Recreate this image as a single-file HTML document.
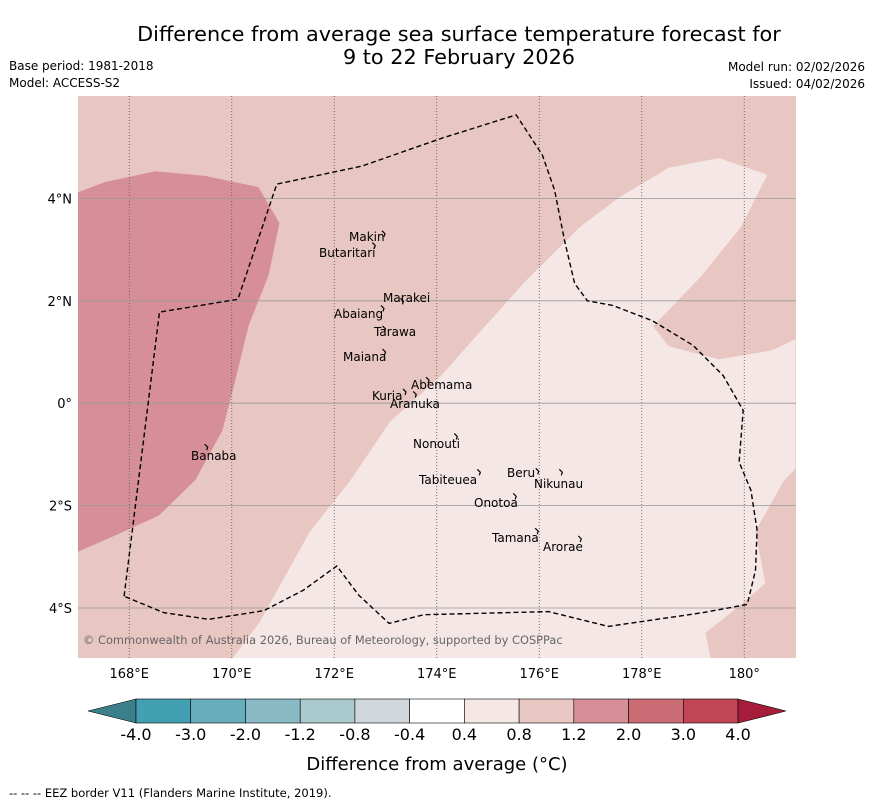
<!DOCTYPE html>
<html><head><meta charset="utf-8"><style>
body{margin:0;background:#fff;width:873px;height:804px;overflow:hidden;font-family:"DejaVu Sans","Liberation Sans",sans-serif}
</style></head><body>
<svg width="873" height="804" xmlns="http://www.w3.org/2000/svg" font-family="DejaVu Sans, Liberation Sans, sans-serif">
<text x="459" y="41" font-size="20.8" text-anchor="middle">Difference from average sea surface temperature forecast for</text>
<text x="459" y="64" font-size="20.8" text-anchor="middle">9 to 22 February 2026</text>
<text x="9" y="70" font-size="12">Base period: 1981-2018</text>
<text x="9" y="87" font-size="12">Model: ACCESS-S2</text>
<text x="865" y="71" font-size="12" text-anchor="end">Model run: 02/02/2026</text>
<text x="865" y="88" font-size="12" text-anchor="end">Issued: 04/02/2026</text>
<defs><clipPath id="mc"><rect x="78" y="96" width="718" height="562"/></clipPath></defs>
<g id="map" clip-path="url(#mc)">
<rect x="78" y="96" width="718" height="562" fill="#e8c6c1"/>
</g>
<g id="cbar"></g>
<text x="437" y="770" font-size="18" text-anchor="middle">Difference from average (°C)</text>
<text x="9" y="797" font-size="11.5">--  --  -- EEZ border V11 (Flanders Marine Institute, 2019).</text>
</svg>
<script>
const NS='http://www.w3.org/2000/svg';
const lonTicks=[168,170,172,174,176,178,180];
const lonLabels=['168°E','170°E','172°E','174°E','176°E','178°E','180°'];
const latTicks=[4,2,0,-2,-4];
const latLabels=['4°N','2°N','0°','2°S','4°S'];
const darkRegion=[[167,4.12],[167.53,4.32],[168.51,4.53],[169.48,4.44],[170.52,4.22],[170.93,3.52],[170.72,2.5],[170.33,1.52],[170.07,0.45],[169.82,-0.53],[169.29,-1.5],[168.57,-2.2],[167.53,-2.67],[167,-2.9]];
const lightRegion=[[170,-5],[170.55,-4.27],[171.52,-2.51],[172.3,-1.53],[173.09,-0.36],[174.07,0.52],[174.85,1.4],[175.73,2.38],[176.8,3.45],[177.59,4.04],[178.53,4.6],[179.51,4.79],[180.45,4.46],[179.94,3.45],[179.16,2.48],[178.22,1.5],[178.53,1.11],[179.51,0.86],[180.53,1.03],[181,1.25],[181,-1.28],[180.77,-1.52],[180.22,-2.5],[180.41,-3.52],[179.94,-3.93],[179.24,-4.49],[179.35,-5]];
const eez=[[167.9,-3.77],[168.59,1.78],[170.12,2.03],[170.88,4.28],[172.54,4.63],[174.11,5.18],[175.55,5.63],[176.06,4.85],[176.3,4.16],[176.49,3.19],[176.69,2.34],[176.94,2.0],[177.43,1.91],[178.21,1.61],[179.0,1.13],[179.59,0.54],[179.98,-0.14],[179.9,-1.15],[180.13,-1.7],[180.25,-2.48],[180.22,-3.26],[180.06,-3.93],[179.2,-4.09],[177.35,-4.36],[176.18,-4.07],[173.75,-4.13],[173.07,-4.3],[172.48,-3.75],[172.05,-3.18],[171.4,-3.65],[170.63,-4.05],[169.55,-4.22],[168.67,-4.09],[167.9,-3.77]];
const islands=[["Makin",172.99,3.31,349,241],["Butaritari",172.8,3.08,319,257],["Marakei",173.35,1.99,383,302],["Abaiang",172.97,1.85,334,318],["Tarawa",173.0,1.45,374,336],["Maiana",173.0,1.0,343,361],["Abemama",173.85,0.45,411,389],["Kuria",173.4,0.22,372,400],["Aranuka",173.6,0.17,390,408],["Nonouti",174.4,-0.65,413,448],["Banaba",169.53,-0.86,191,460],["Beru",175.99,-1.33,507,477],["Nikunau",176.45,-1.35,534,488],["Tabiteuea",174.85,-1.35,419,484],["Onotoa",175.55,-1.82,474,507],["Tamana",175.98,-2.5,492,542],["Arorae",176.82,-2.65,543,551]];
const cbColors=['#43a0b2','#67adbb','#89b9c4','#a9c9cc','#d0d6d9','#ffffff','#f5e7e5','#e8c6c1','#d68f97','#cb6b74','#c04555'];
const cbLabels=['-4.0','-3.0','-2.0','-1.2','-0.8','-0.4','0.4','0.8','1.2','2.0','3.0','4.0'];
const X=lon=>78+(lon-167)*51.25, Y=lat=>96+(6-lat)*51.2;
function mk(t,a,p){const e=document.createElementNS(NS,t);for(const k in a)e.setAttribute(k,a[k]);p.appendChild(e);return e;}
const map=document.getElementById('map');
const pts=a=>a.map(p=>X(p[0]).toFixed(1)+','+Y(p[1]).toFixed(1)).join(' ');
let e=mk('polygon',{points:pts(darkRegion),fill:'#d68f97'},map);


e=mk('polygon',{points:pts(lightRegion),fill:'#f5e7e5'},map);


const svg=document.querySelector('svg');
lonTicks.forEach((l,i)=>{
 e=mk('line',{x1:X(l),x2:X(l),y1:96,y2:658,stroke:'#555','stroke-width':0.8,'stroke-dasharray':'1,2'},map);
 
 
 e=mk('text',{x:X(l),y:678,'font-size':13,'text-anchor':'middle'},svg);e.textContent=lonLabels[i];
 
 
});
latTicks.forEach((l,i)=>{
 e=mk('line',{x1:78,x2:796,y1:Y(l),y2:Y(l),stroke:'#999','stroke-width':0.8},map);
 
 
 e=mk('text',{x:72,y:Y(l)+5,'font-size':13,'text-anchor':'end'},svg);e.textContent=latLabels[i];
 
 
});
e=mk('polyline',{points:pts(eez),fill:'none',stroke:'#000','stroke-width':1.4,'stroke-dasharray':'5,3'},map);


islands.forEach(s=>{
 const x=X(s[1]),y=Y(s[2]);
 e=mk('path',{d:`M${x-3},${y-3} l3,3 l-1,3`,fill:'none',stroke:'#000','stroke-width':1.2},map);
 
 
 e=mk('text',{x:s[3],y:s[4],'font-size':12},svg);e.textContent=s[0];
 
 
});
e=mk('text',{x:83,y:644,'font-size':11.4,fill:'#666'},svg);e.textContent='© Commonwealth of Australia 2026, Bureau of Meteorology, supported by COSPPac';


const cb=document.getElementById('cbar');
const x0=136,w=54.73,y0=699,h=24;
e=mk('polygon',{points:`88,711 ${x0},${y0} ${x0},${y0+h}`,fill:'#3b7f8b',stroke:'#000','stroke-width':0.6},cb);


cbColors.forEach((c,i)=>{
 e=mk('rect',{x:x0+i*w,y:y0,width:w,height:h,fill:c,stroke:'#000','stroke-width':0.6},cb);
 
 
});
const xe=x0+cbColors.length*w;
e=mk('polygon',{points:`${xe},${y0} 786,711 ${xe},${y0+h}`,fill:'#a81c3b',stroke:'#000','stroke-width':0.6},cb);


cbLabels.forEach((t,i)=>{
 e=mk('text',{x:x0+i*w,y:740,'font-size':16,'text-anchor':'middle'},cb);e.textContent=t;
 
 
});
</script>
</body></html>
